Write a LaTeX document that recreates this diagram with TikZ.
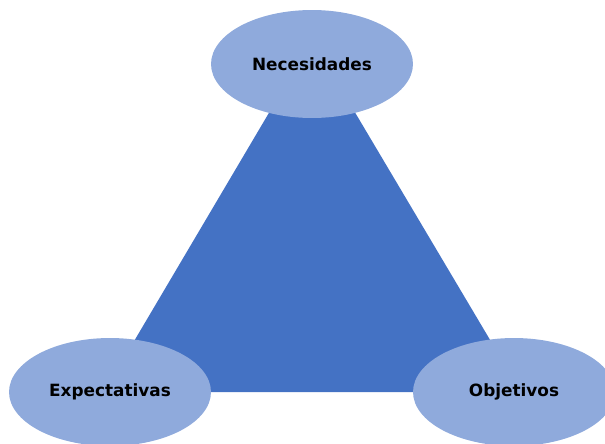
\documentclass[tikz,border=0pt]{standalone}
\usepackage{fontspec}
\setsansfont{DejaVu Sans}
\usetikzlibrary{shapes.geometric}
\definecolor{triblue}{HTML}{4472C4}
\definecolor{ovalblue}{HTML}{8FAADC}
\tikzset{ oval/.style = { ellipse % corner label
        , fill = ovalblue
        , minimum width = 4.04cm
        , minimum height = 2.16cm
        , inner sep = 0pt
        , font = \sffamily\bfseries\fontsize{9.6}{11}\selectfont
        }
        }
\begin{document}
\begin{tikzpicture}[x=0.02cm, y=-0.02cm]
        \useasboundingbox (0,0) rectangle (605,443);
        \fill [triblue] (312,40) -- (104,392) -- (521,392) -- cycle;
        \node [oval](nec) at (312,64) {Necesidades};
        \node [oval](exp) at (110,392) {Expectativas};
        \node [oval](obj) at (514,392) {Objetivos};
\end{tikzpicture}
\end{document}
